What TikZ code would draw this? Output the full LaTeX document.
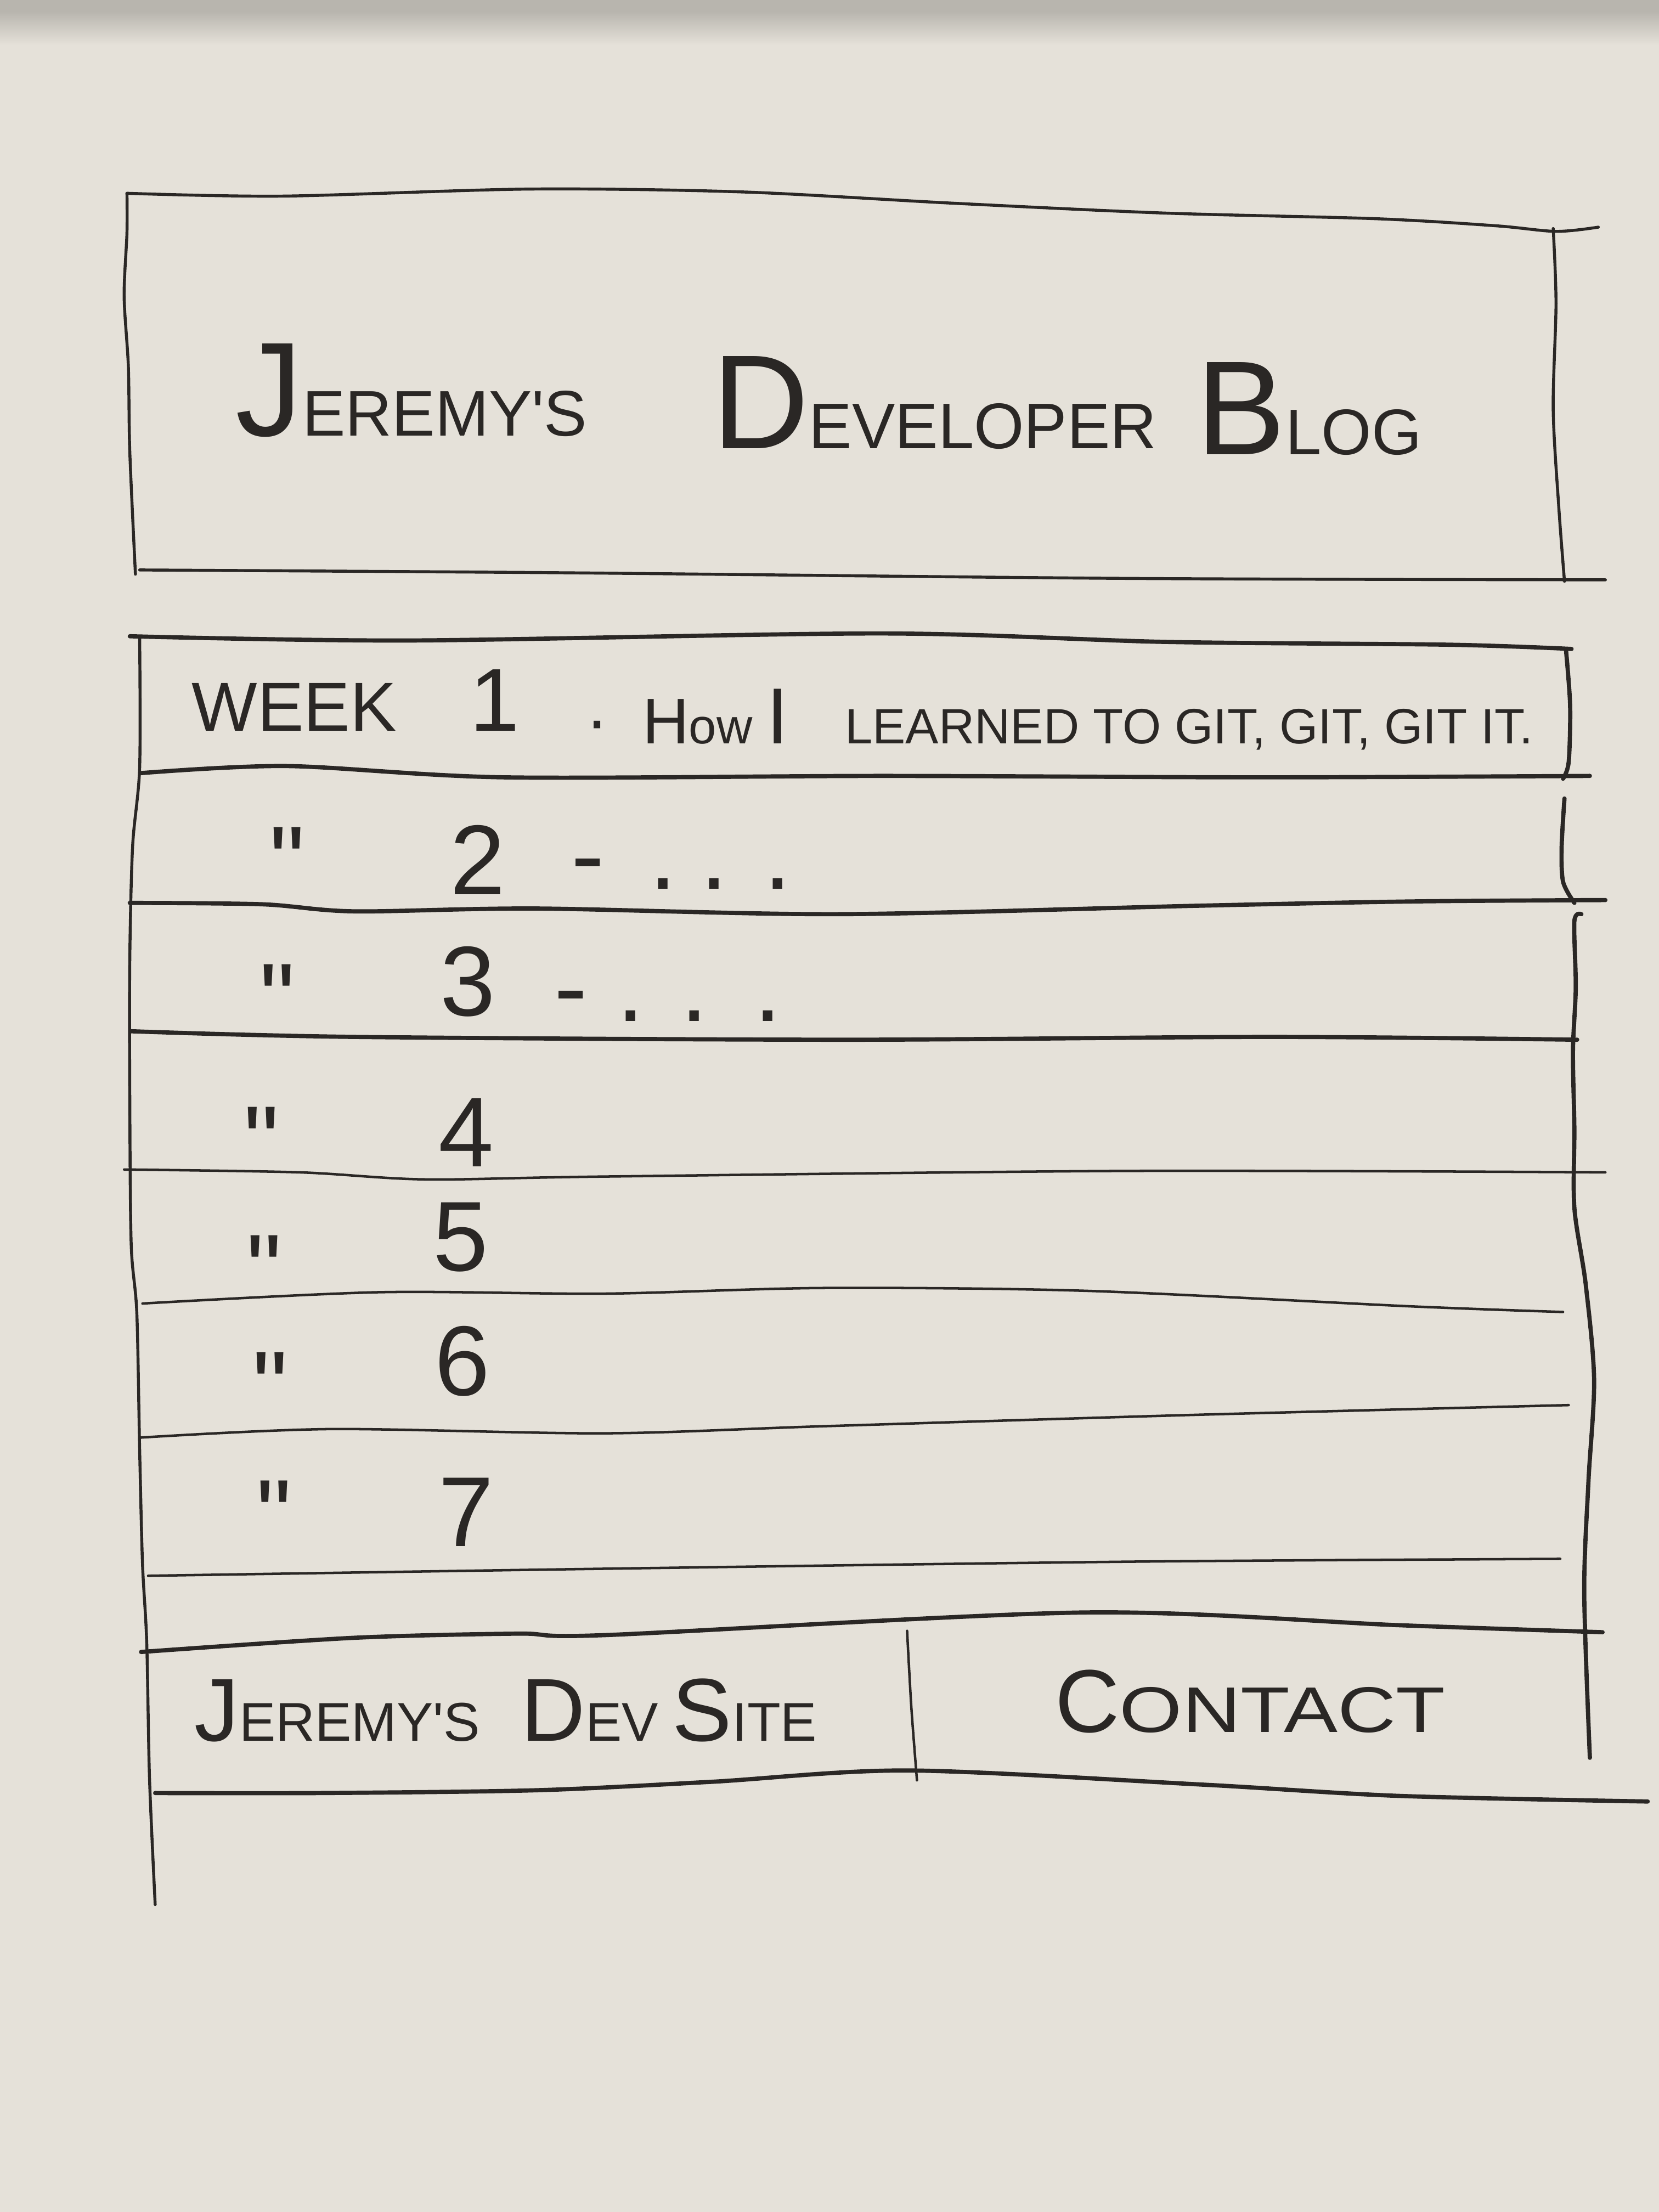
\documentclass[tikz,border=0pt]{standalone}
\usepackage{fontspec}
\usepackage{graphicx}
\setmainfont{Liberation Sans}[Ligatures=TeXOff]
\definecolor{paper}{RGB}{229,225,217}
\definecolor{ink}{RGB}{42,39,37}
\definecolor{edge}{RGB}{184,181,174}
% a piece of text at a given point size
\newcommand{\fs}[2]{{\fontsize{#1}{#1}\selectfont #2}}

\begin{document}
\begin{tikzpicture}[x=0.01cm, y=-0.01cm, line cap=round, line join=round,
  pen/.style={draw=ink, line width=0.6pt},
  heavypen/.style={draw=ink, line width=0.85pt},
  finepen/.style={draw=ink, line width=0.5pt},
  hand/.style={text=ink, inner sep=0pt, outer sep=0pt, anchor=base west},
]

% sheet of paper, with the darker strip along its top
\fill[paper] (0,0) rectangle (1176,1568);
\fill[edge] (0,0) rectangle (1176,8);
\shade[top color=edge, bottom color=paper] (0,8) rectangle (1176,32);
\useasboundingbox (0,0) rectangle (1176,1568);

% ---------- header box ----------
\draw[pen,smooth] plot coordinates {(90,137) (200,139) (375,134) (525,136) (675,144) (825,151) (975,155) (1060,160) (1103,164) (1133,161)};
\draw[pen,smooth] plot coordinates {(90,137) (90,165) (88,210) (91,260) (92,320) (96,407)};
\draw[pen,smooth] plot coordinates {(1101,162) (1103,215) (1101,290) (1105,360) (1109,412)};
\draw[pen,smooth] plot coordinates {(99,404) (400,406) (800,410) (1138,411)};

\node[hand] (title-a) at (167,309) {\fs{27}{J}\fs{13}{EREMY'S}};
\node[hand] (title-b) at (505,318) {\fs{27}{D}\fs{13}{EVELOPER}};
\node[hand] (title-c) at (848,322) {\fs{27}{B}\fs{13}{LOG}};

% ---------- list of posts ----------
% left edge running past the footer
\draw[pen,smooth] plot coordinates {(99,452) (99,544) (94,600) (92,680) (92,779) (93,882) (97,931) (99,1028) (101,1108) (104,1164) (106,1261) (110,1350)};

% row separators
\draw[heavypen,smooth] plot coordinates {(92,451) (290,454) (625,449) (826,455) (1027,457) (1114,460)};
\draw[heavypen,smooth] plot coordinates {(100,548) (203,543) (357,551) (625,550) (893,551) (1127,550)};
\draw[heavypen,smooth] plot coordinates {(92,640) (186,641) (251,646) (380,644) (595,648) (850,642) (1000,639) (1138,638)};
\draw[heavypen,smooth] plot coordinates {(93,731) (251,735) (600,737) (900,735) (1118,737)};
\draw[finepen,smooth] plot coordinates {(88,829) (212,831) (301,836) (428,834) (800,830) (1138,831)};
\draw[finepen,smooth] plot coordinates {(101,924) (268,916) (428,917) (583,913) (770,915) (1000,926) (1108,930)};
\draw[finepen,smooth] plot coordinates {(100,1019) (234,1013) (428,1016) (583,1011) (844,1003) (1112,996)};
\draw[finepen,smooth] plot coordinates {(105,1117) (428,1112) (800,1107) (1106,1105)};

% right edge, drawn in pieces
\draw[heavypen,smooth] plot coordinates {(1110,460) (1113,500) (1112,540) (1108,552)};
\draw[heavypen,smooth] plot coordinates {(1109,566) (1107,600) (1108,625) (1116,640)};
\draw[heavypen,smooth] plot coordinates {(1121,648) (1116,653) (1117,700) (1115,745) (1116,800) (1116,856) (1124,910) (1130,978) (1126,1050) (1123,1129) (1127,1246)};

% row texts
\node[hand] (wk1-num) at (136,518) {\fs{14}{WEEK}\hspace{0.52cm}\fs{18}{1}};
\node[hand] (wk1-title) at (415,527) {\fs{14}{·}\hspace{0.24cm}\fs{13}{H}\fs{10}{ow}\hspace{0.1cm}\fs{16}{I}\hspace{0.4cm}\fs{10}{LEARNED TO GIT, GIT, GIT IT.}};

\node[hand] (ditto2) at (191,635) {\fs{20}{"}};
\node[hand] (wk2) at (319,634) {\fs{20}{2}};
\node[hand] (wk2-more) at (405,630) {\fs{20}{-\hspace{0.32cm}.\hspace{0.165cm}.\hspace{0.255cm}.}};

\node[hand] (ditto3) at (184,732) {\fs{20}{"}};
\node[hand] (wk3) at (312,720) {\fs{20}{3}};
\node[hand] (wk3-more) at (393,724) {\fs{20}{-\hspace{0.21cm}.\hspace{0.255cm}.\hspace{0.325cm}.}};

\node[hand] (ditto4) at (173,833) {\fs{20}{"}};
\node[hand] (wk4) at (311,827) {\fs{20}{4}};
\node[hand] (ditto5) at (175,924) {\fs{20}{"}};
\node[hand] (wk5) at (307,901) {\fs{20}{5}};
\node[hand] (ditto6) at (179,1007) {\fs{20}{"}};
\node[hand] (wk6) at (308,989) {\fs{20}{6}};
\node[hand] (ditto7) at (182,1098) {\fs{20}{"}};
\node[hand] (wk7) at (311,1096) {\fs{20}{7}};

% ---------- footer ----------
\draw[heavypen,smooth] plot coordinates {(100,1171) (250,1161) (367,1158) (430,1159) (769,1143) (991,1152) (1136,1157)};
\draw[heavypen,smooth] plot coordinates {(110,1271) (228,1271) (381,1269) (505,1263) (644,1255) (852,1265) (991,1273) (1168,1277)};
\draw[finepen,smooth] plot coordinates {(643,1156) (646,1210) (650,1262)};

\node[hand] (foot-site) at (138,1234) {\fs{18}{J}\fs{11}{EREMY'S}\hspace{0.29cm}\fs{18}{D}\fs{11}{EV}\hspace{0.1cm}\fs{18}{S}\fs{11}{ITE}};
\node[hand] (foot-contact) at (748,1228) {\fs{18}{C}\scalebox{1.25}[1]{\fs{13}{ONTACT}}};

\end{tikzpicture}
\end{document}
